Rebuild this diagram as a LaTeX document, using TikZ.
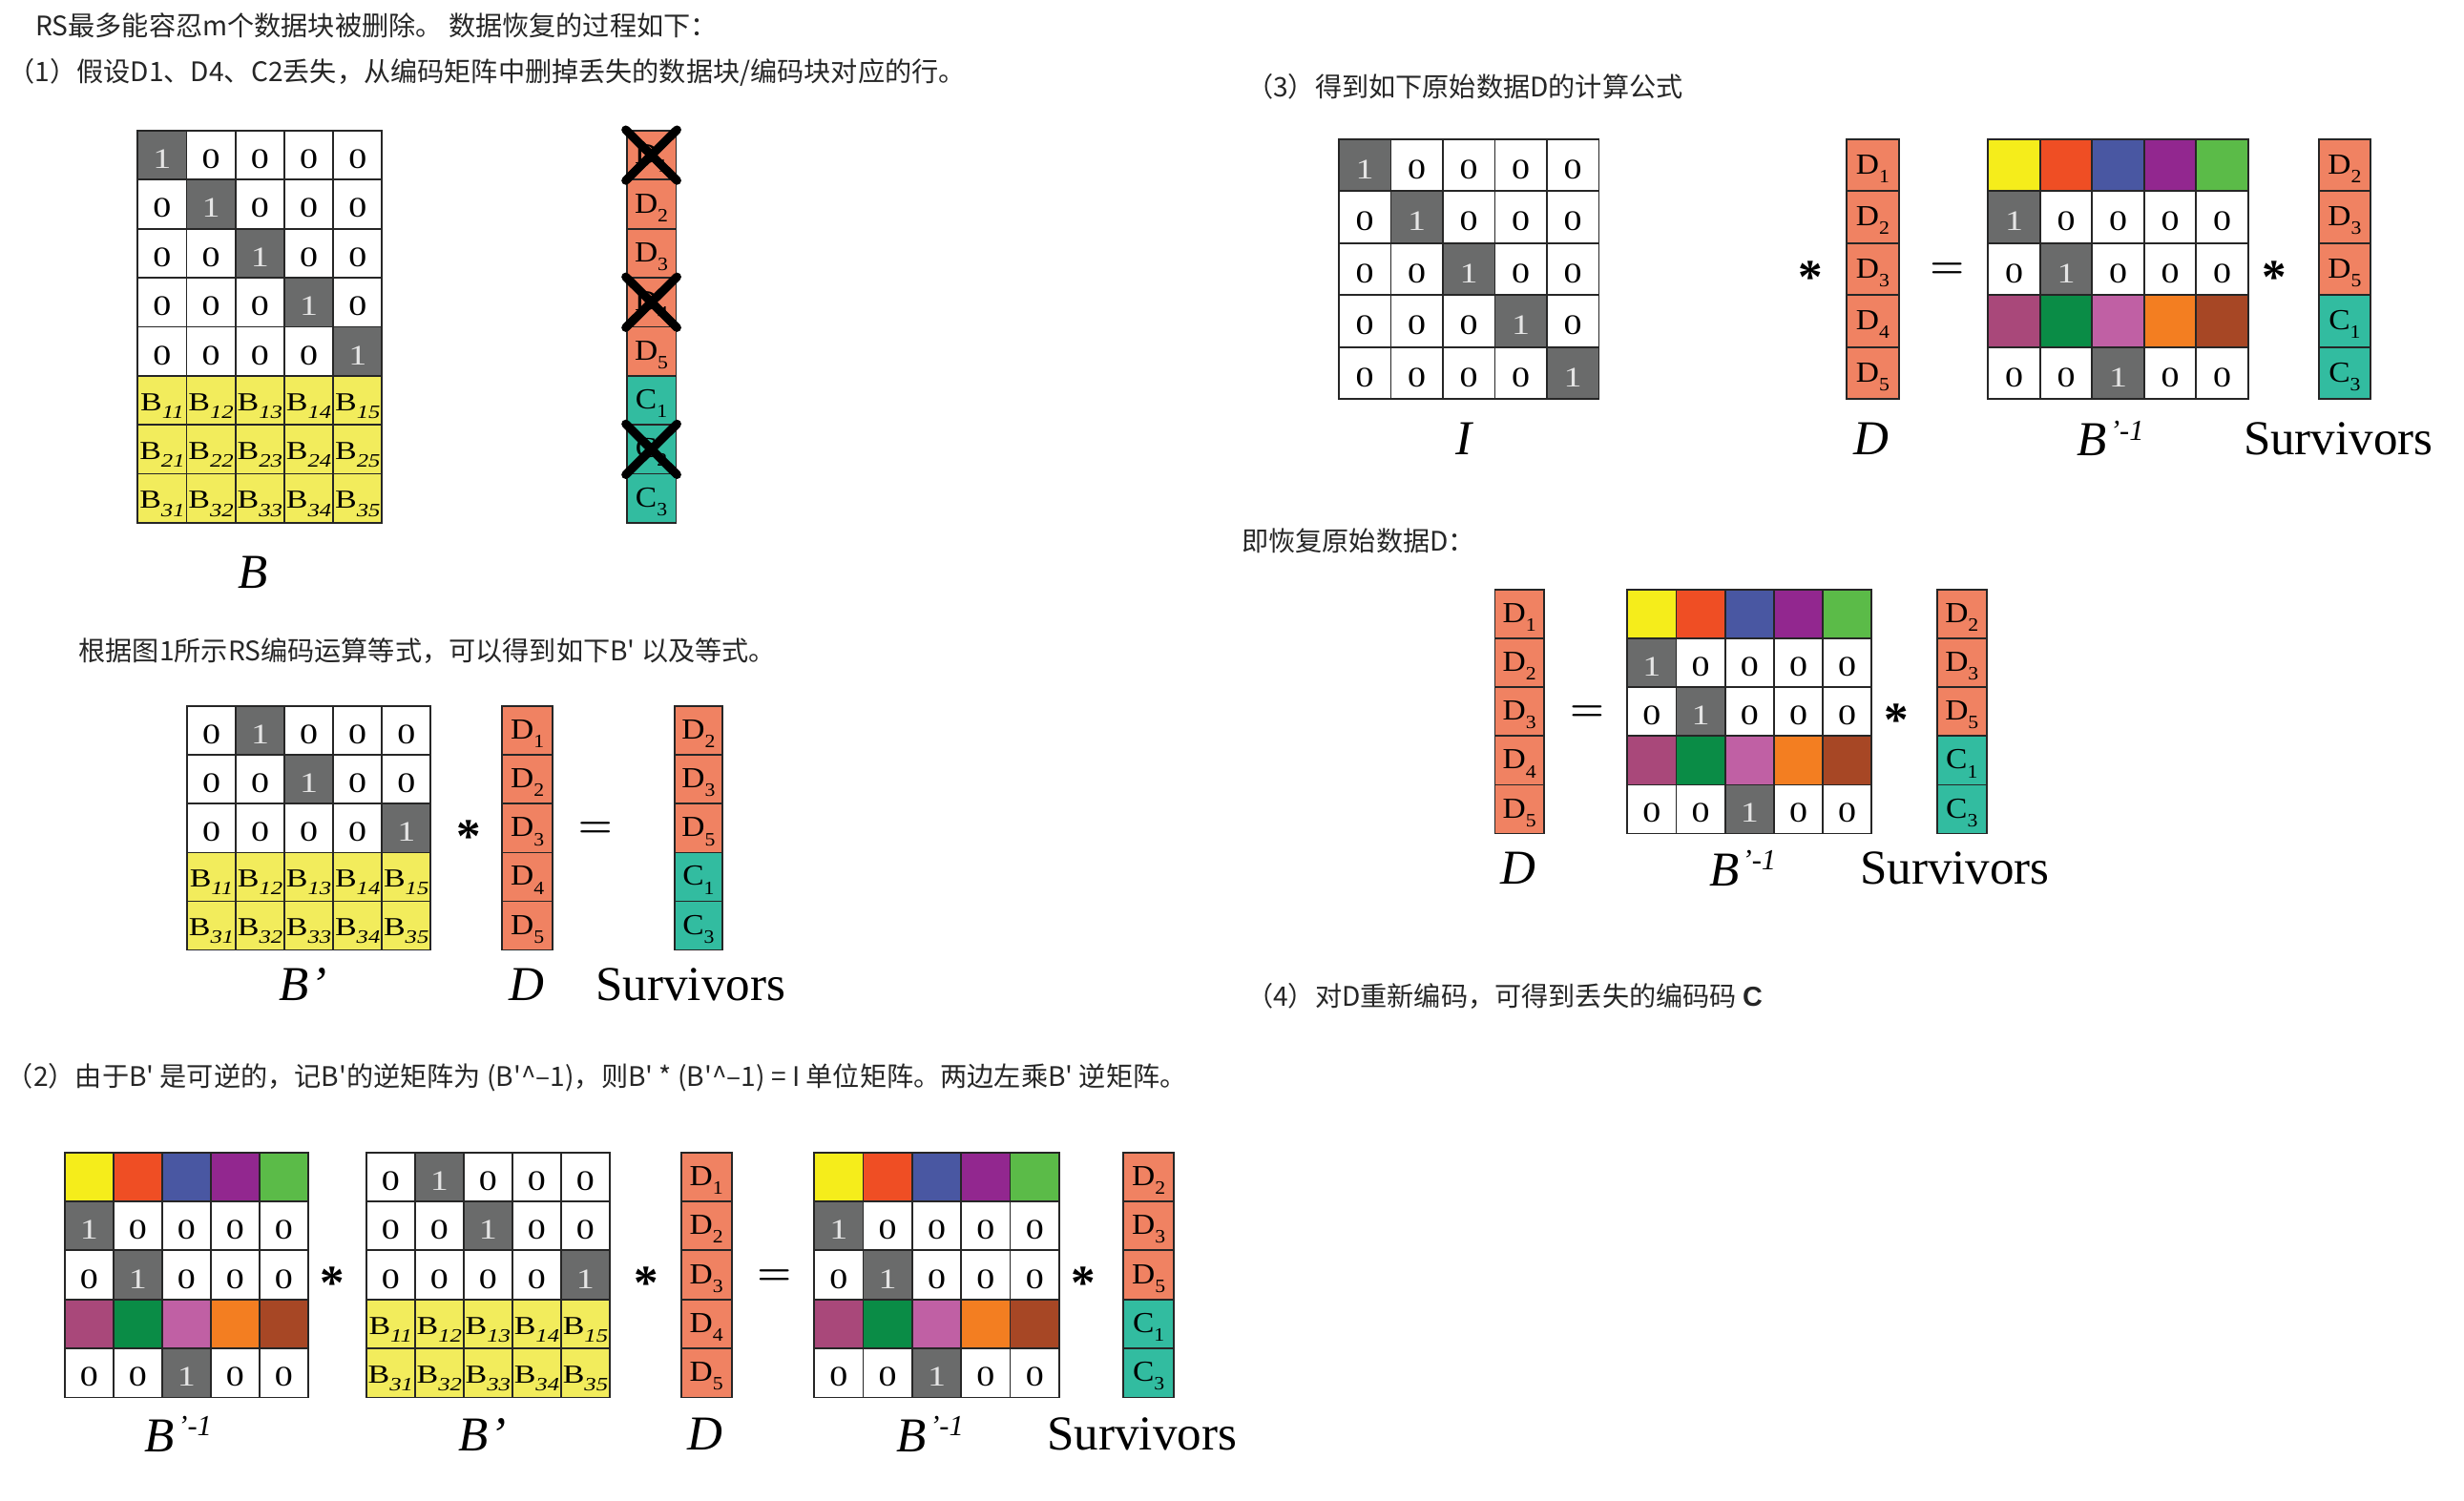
\documentclass[tikz,border=0pt]{standalone}
\usepackage{fontspec}
\usepackage{amsmath}
\usepackage{graphicx}
\setmainfont{Liberation Serif}
\newfontfamily\cjk{Noto Sans CJK SC}
\newfontfamily\lsans{Liberation Sans}
\definecolor{cgray}{RGB}{106,107,107}
\definecolor{byel}{RGB}{242,236,92}
\definecolor{dsal}{RGB}{240,130,98}
\definecolor{cteal}{RGB}{50,188,160}
\definecolor{kyel}{RGB}{245,237,27}
\definecolor{kred}{RGB}{239,78,36}
\definecolor{kblu}{RGB}{73,87,162}
\definecolor{kpur}{RGB}{146,39,143}
\definecolor{kgrn}{RGB}{91,187,72}
\definecolor{kmau}{RGB}{169,72,122}
\definecolor{kdgr}{RGB}{10,140,70}
\definecolor{kpnk}{RGB}{192,96,164}
\definecolor{korg}{RGB}{243,126,33}
\definecolor{kbrn}{RGB}{167,71,37}
\newcommand{\cnum}[1]{\scalebox{1.28}[1]{#1}}
\newcommand{\bsub}[1]{\scalebox{1.25}[1]{B\raisebox{-5pt}{\fontsize{12}{12}\selectfont\itshape #1}}}
\newcommand{\dsub}[2]{\scalebox{1.1}[1]{#1\raisebox{-5.5pt}{\fontsize{12}{12}\selectfont #2}}}
\newcommand{\binv}{\textit{B}\kern2pt\raisebox{10pt}{\fontsize{18.5}{18.5}\selectfont\itshape ’-1}}
\def\idrows{{ocell/1,zcell/0,zcell/0,zcell/0,zcell/0},{zcell/0,ocell/1,zcell/0,zcell/0,zcell/0},{zcell/0,zcell/0,ocell/1,zcell/0,zcell/0},{zcell/0,zcell/0,zcell/0,ocell/1,zcell/0},{zcell/0,zcell/0,zcell/0,zcell/0,ocell/1}}
\def\brows{{ocell/1,zcell/0,zcell/0,zcell/0,zcell/0},{zcell/0,ocell/1,zcell/0,zcell/0,zcell/0},{zcell/0,zcell/0,ocell/1,zcell/0,zcell/0},{zcell/0,zcell/0,zcell/0,ocell/1,zcell/0},{zcell/0,zcell/0,zcell/0,zcell/0,ocell/1},{bcell/11,bcell/12,bcell/13,bcell/14,bcell/15},{bcell/21,bcell/22,bcell/23,bcell/24,bcell/25},{bcell/31,bcell/32,bcell/33,bcell/34,bcell/35}}
\def\bprows{{zcell/0,ocell/1,zcell/0,zcell/0,zcell/0},{zcell/0,zcell/0,ocell/1,zcell/0,zcell/0},{zcell/0,zcell/0,zcell/0,zcell/0,ocell/1},{bcell/11,bcell/12,bcell/13,bcell/14,bcell/15},{bcell/31,bcell/32,bcell/33,bcell/34,bcell/35}}
\def\binvrows{{fcell/kyel,fcell/kred,fcell/kblu,fcell/kpur,fcell/kgrn},{ocell/1,zcell/0,zcell/0,zcell/0,zcell/0},{zcell/0,ocell/1,zcell/0,zcell/0,zcell/0},{fcell/kmau,fcell/kdgr,fcell/kpnk,fcell/korg,fcell/kbrn},{zcell/0,zcell/0,ocell/1,zcell/0,zcell/0}}
\def\allrows{{dcell/1},{dcell/2},{dcell/3},{dcell/4},{dcell/5},{ccell/1},{ccell/2},{ccell/3}}
\def\drows{{dcell/1},{dcell/2},{dcell/3},{dcell/4},{dcell/5}}
\def\srows{{dcell/2},{dcell/3},{dcell/5},{ccell/1},{ccell/3}}
\newcommand{\cellgrid}[6]{%
  \foreach \rw [count=\r from 0] in #6
    \foreach \s/\v [count=\k from 0] in \rw
      \node[cell,minimum width=#3pt,minimum height=#4pt,name=#5-\r-\k,at={({#1+#3*\k},{#2+#4*\r})},\s=\v];}

\begin{document}
\begin{tikzpicture}[x=1pt,y=-1pt,
  cell/.style={draw=black!85,line width=1.1pt,inner sep=0pt,anchor=north west,text height=17pt,text depth=0pt,font=\fontsize{18}{18}\selectfont},
  zcell/.style={fill=white,node contents={\cnum{#1}}},
  ocell/.style={fill=cgray,text=black!10,node contents={\cnum{#1}}},
  bcell/.style={fill=byel,text height=13pt,font=\fontsize{16.5}{16.5}\selectfont,node contents={\bsub{#1}}},
  dcell/.style={fill=dsal,text height=11pt,font=\fontsize{18.5}{18.5}\selectfont,node contents={\dsub{D}{#1}}},
  ccell/.style={fill=cteal,text height=11pt,font=\fontsize{18.5}{18.5}\selectfont,node contents={\dsub{C}{#1}}},
  fcell/.style={fill=#1,node contents={}},
  txt/.style={anchor=west,inner sep=0pt,text=black!85,font=\cjk\fontsize{17.1}{17.1}\selectfont},
  lab/.style={inner sep=0pt,font=\fontsize{31}{31}\selectfont},
  ast/.style={anchor=base,inner sep=0pt,font=\bfseries\fontsize{31}{31}\selectfont},
  eqs/.style={inner sep=0pt,font=\fontsize{25}{25}\selectfont},
  xmark/.style={line width=5.5pt,line cap=round}]
\path[use as bounding box,fill=white](0,0)rectangle(1568,955);
\node[txt](t1)at(22.5,16){RS最多能容忍m个数据块被删除。 数据恢复的过程如下：};
\node[txt](t2)at(5,46){（1）假设D1、D4、C2丢失，从编码矩阵中删掉丢失的数据块/编码块对应的行。};
\node[txt](t3)at(50,414){根据图1所示RS编码运算等式，可以得到如下B\textquotesingle{} 以及等式。};
\node[txt](t4)at(4,686){（2）由于B\textquotesingle{} 是可逆的，记B\textquotesingle 的逆矩阵为 (B\textquotesingle\textasciicircum–1)，则B\textquotesingle{} * (B\textquotesingle\textasciicircum–1) = I 单位矩阵。两边左乘B\textquotesingle{} 逆矩阵。};
\node[txt](t5)at(793,55){（3）得到如下原始数据D的计算公式};
\node[txt](t6)at(790,344){即恢复原始数据D：};
\node[txt](t7)at(793,634){（4）对D重新编码，可得到丢失的编码码 {\lsans\bfseries\fontsize{17.5}{17.5}\selectfont C}};
\cellgrid{87.1}{82.6}{31.1}{31.2}{B}{\brows}
\cellgrid{398.2}{82.6}{31.5}{31.2}{V}{\allrows}
\foreach \r in {0,3,6}
  \draw[xmark](V-\r-0.north west)--(V-\r-0.south east)(V-\r-0.north east)--(V-\r-0.south west);
\node[lab](lB)at(160.7,364.4){\textit{B}};
\cellgrid{118.5}{449}{31}{31}{Pa}{\bprows}
\cellgrid{319}{449}{32.2}{31}{Da}{\drows}
\cellgrid{428.7}{449}{30.5}{31}{Sa}{\srows}
\node[ast](ma)at(298.2,542.8){*};
\node[eqs](ea)at(378.8,528.3){$\boldsymbol{=}$};
\node[lab](lPa)at(192.9,626.5){\textit{B\kern1pt’}};
\node[lab](lDa)at(335.4,626.5){\textit{D}};
\node[lab](lSa)at(439.5,626.5){Survivors};
\cellgrid{40.6}{732.8}{31}{31.2}{Ib}{\binvrows}
\cellgrid{232.5}{732.8}{31}{31.2}{Pb}{\bprows}
\cellgrid{432.8}{732.8}{32.2}{31.2}{Db}{\drows}
\cellgrid{517.5}{732.8}{31.2}{31.2}{Jb}{\binvrows}
\cellgrid{714.3}{732.8}{32.3}{31.2}{Sb}{\srows}
\node[ast](mb1)at(211.7,827.1){*};
\node[ast](mb2)at(411,827.1){*};
\node[eqs](eb)at(492.7,812.6){$\boldsymbol{=}$};
\node[ast](mb3)at(689.6,827.1){*};
\node[lab](lIb)at(113.5,912.8){\binv};
\node[lab](lPb)at(306.8,912.8){\textit{B\kern1pt’}};
\node[lab](lDb)at(448.5,912.8){\textit{D}};
\node[lab](lJb)at(592,912.8){\binv};
\node[lab](lSb)at(726.7,912.8){Survivors};
\cellgrid{851.4}{88}{33.1}{33.1}{Ec}{\idrows}
\cellgrid{1174.3}{88}{33.7}{33.1}{Dc}{\drows}
\cellgrid{1264.6}{88}{33.1}{33.1}{Ic}{\binvrows}
\cellgrid{1475}{88}{33}{33.1}{Sc}{\srows}
\node[ast](mc1)at(1152,186.5){*};
\node[eqs](ec)at(1239,172){$\boldsymbol{=}$};
\node[ast](mc2)at(1447,186.5){*};
\node[lab](lEc)at(932,279){\textit{I}};
\node[lab](lDc)at(1190.7,279){\textit{D}};
\node[lab](lIc)at(1343,279){\binv};
\node[lab](lSc)at(1488,279){Survivors};
\cellgrid{950.7}{374.9}{31.3}{31}{Dd}{\drows}
\cellgrid{1035}{374.9}{31.1}{31}{Id}{\binvrows}
\cellgrid{1232}{374.9}{31.8}{31}{Sd}{\srows}
\node[eqs](ed)at(1010,454){$\boldsymbol{=}$};
\node[ast](md)at(1207,468.5){*};
\node[lab](lDd)at(966.4,552.6){\textit{D}};
\node[lab](lId)at(1109,552.6){\binv};
\node[lab](lSd)at(1244,552.6){Survivors};
\end{tikzpicture}
\end{document}
